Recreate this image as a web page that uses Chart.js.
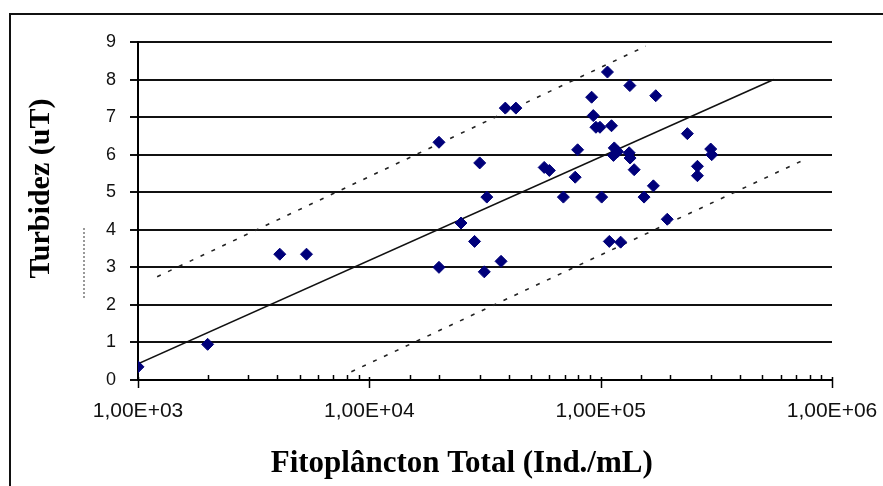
<!DOCTYPE html>
<html>
<head>
<meta charset="utf-8">
<script src="https://cdn.jsdelivr.net/npm/chart.js@4.4.1/dist/chart.umd.min.js"></script>
<style>
  html, body { margin: 0; padding: 0; background: #fff; }
  #wrap { position: relative; width: 883px; height: 486px; overflow: hidden; background: #fff; }
  #frame { position: absolute; left: 9px; top: 13px; width: 900px; height: 490px;
           border: 2px solid #111; border-bottom: none; border-right: none; }
  #dots { position: absolute; left: 83px; top: 228px; height: 70px; border-left: 2px dotted #999; }
  canvas { position: absolute; left: 0; top: 0; }
</style>
</head>
<body>
<div id="wrap">
  <div id="frame"></div>
  <div id="dots"></div>
  <canvas id="c" width="883" height="486"></canvas>
</div>
<script>
// ---- data ----
const fitoplancton = [1000, 2000, 4100, 5350, 20000, 20000, 24900, 28500, 30000, 31400,
  32200, 37100, 38700, 43000, 57000, 60000, 69000, 77600, 79500, 91400,
  92900, 95400, 99300, 101000, 107000, 109000, 111400, 113600, 114500, 118300,
  122000, 132800, 133700, 134000, 139600, 154000, 169000, 173000, 194000, 237000,
  262000, 262000, 299000, 302000];
const turbidez = [0.35, 0.95, 3.35, 3.35, 6.33, 3.0, 4.18, 3.69, 5.78, 2.88,
  4.87, 3.16, 7.24, 7.24, 5.66, 5.58, 4.87, 5.40, 6.13, 7.53,
  7.04, 6.73, 6.73, 4.87, 8.2, 3.69, 6.77, 5.98, 6.18, 6.08,
  3.67, 6.05, 7.84, 5.91, 5.60, 4.87, 5.17, 7.57, 4.28, 6.56,
  5.69, 5.44, 6.15, 6.00];
const trendX = [1000, 560000];
const trendY = [0.43, 8.0];
const upperX = [1210, 156700];
const upperY = [2.75, 8.89];
const lowerX = [8360, 731000];
const lowerY = [0.22, 5.82];
const xMin = 1000, xMax = 1000000;
const yMin = 0, yMax = 9;
const xTitle = 'Fitoplâncton Total (Ind./mL)';
const yTitle = 'Turbidez (uT)';

const NB = '\u00a0';
const pts = (xs, ys) => xs.map((x, i) => ({ x: x, y: ys[i] }));
const isPow10 = v => Math.abs(Math.log10(v) - Math.round(Math.log10(v))) < 1e-9;
const fmtExp = v => {
  const e = Math.round(Math.log10(v));
  return '1,00E+' + (e < 10 ? '0' + e : '' + e);
};

const xTickMarks = {
  id: 'xTickMarks',
  afterDraw(chart) {
    const s = chart.scales.x;
    const ctx = chart.ctx;
    const yb = s.top;
    ctx.save();
    ctx.strokeStyle = '#000';
    ctx.lineWidth = 1.5;
    s.ticks.forEach(t => {
      const px = Math.round(s.getPixelForValue(t.value)) + 0.5;
      const major = isPow10(t.value);
      ctx.beginPath();
      ctx.moveTo(px, major ? yb - 3 : yb - 5);
      ctx.lineTo(px, major ? yb + 8 : yb);
      ctx.stroke();
    });
    ctx.restore();
  }
};

new Chart(document.getElementById('c'), {
  type: 'scatter',
  data: {
    datasets: [
      {
        label: 'Dados',
        data: pts(fitoplancton, turbidez),
        pointStyle: 'rectRot',
        pointRadius: 6,
        pointHoverRadius: 6,
        backgroundColor: '#00007a',
        borderColor: '#00007a',
        borderWidth: 1,
        order: 0
      },
      {
        type: 'line',
        label: 'Tendência',
        data: pts(trendX, trendY),
        borderColor: '#111',
        borderWidth: 1.6,
        pointRadius: 0,
        fill: false,
        order: 1
      },
      {
        type: 'line',
        label: 'Limite superior',
        data: pts(upperX, upperY),
        borderColor: '#222',
        borderWidth: 1.6,
        borderDash: [4, 8],
        pointRadius: 0,
        fill: false,
        order: 1
      },
      {
        type: 'line',
        label: 'Limite inferior',
        data: pts(lowerX, lowerY),
        borderColor: '#222',
        borderWidth: 1.6,
        borderDash: [4, 8],
        pointRadius: 0,
        fill: false,
        order: 1
      }
    ]
  },
  options: {
    responsive: false,
    animation: false,
    events: [],
    layout: { padding: { top: 42, right: 51, left: 0, bottom: 0 } },
    plugins: {
      legend: { display: false },
      tooltip: { enabled: false },
      title: { display: false }
    },
    scales: {
      x: {
        type: 'logarithmic',
        min: xMin,
        max: xMax,
        afterFit: s => { s.height = 106; s.paddingLeft = 0; s.paddingRight = 0; },
        grid: { display: false, drawTicks: false },
        border: { display: true, color: '#000', width: 2 },
        ticks: {
          autoSkip: false,
          maxRotation: 0,
          minRotation: 0,
          padding: 19,
          color: '#111',
          font: { family: "'Liberation Sans', Arial, sans-serif", size: 21 },
          callback: v => isPow10(v) ? fmtExp(v) : ''
        },
        title: {
          display: true,
          text: xTitle + NB.repeat(6),
          color: '#000',
          padding: { top: 0, bottom: 3 },
          font: { family: "'Liberation Serif', 'Times New Roman', serif", size: 31, weight: 'bold' }
        }
      },
      y: {
        min: yMin,
        max: yMax,
        afterFit: s => { s.width = 138; s.paddingTop = 0; s.paddingBottom = 0; },
        grid: { color: '#111', lineWidth: 2, tickLength: 8, drawTicks: true },
        border: { display: true, color: '#000', width: 2 },
        ticks: {
          stepSize: 1,
          padding: 14,
          color: '#111',
          font: { family: "'Liberation Sans', Arial, sans-serif", size: 18 }
        },
        title: {
          display: true,
          text: NB.repeat(6) + yTitle,
          color: '#000',
          padding: { top: 23, bottom: 0 },
          font: { family: "'Liberation Serif', 'Times New Roman', serif", size: 30, weight: 'bold' }
        }
      }
    }
  },
  plugins: [xTickMarks]
});
</script>
</body>
</html>
